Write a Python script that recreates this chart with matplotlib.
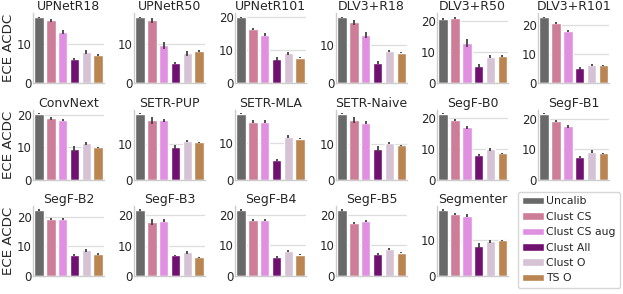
import matplotlib
matplotlib.use("Agg")
import matplotlib.pyplot as plt
import seaborn as sns
import numpy as np
from matplotlib.patches import Patch
from matplotlib.ticker import MultipleLocator

sns.set_theme(style="whitegrid")
plt.rcParams['font.family'] = ['DejaVu Sans']

models = ['UPNetR18', 'UPNetR50', 'UPNetR101', 'DLV3+R18', 'DLV3+R50', 'DLV3+R101',
          'ConvNext', 'SETR-PUP', 'SETR-MLA', 'SETR-Naive', 'SegF-B0', 'SegF-B1',
          'SegF-B2', 'SegF-B3', 'SegF-B4', 'SegF-B5', 'Segmenter']
methods = ['Uncalib', 'Clust CS', 'Clust CS aug', 'Clust All', 'Clust O', 'TS O']

uncalib = [16.9, 16.9, 19.9, 17.2, 20.6, 22.7, 20.5, 18.5, 17.8, 18.6, 21.6, 21.7, 22.2, 21.8, 21.6, 21.6, 18.4]
clust_cs = [16.1, 16.1, 16.3, 15.9, 21.1, 20.7, 19.1, 16.6, 15.7, 16.9, 19.6, 19.3, 19.2, 17.7, 18.3, 17.3, 17.4]
clust_cs_aug = [13.1, 9.7, 14.6, 12.6, 13.0, 18.0, 18.4, 16.6, 15.7, 16.0, 17.1, 17.5, 19.2, 18.3, 18.3, 18.0, 16.8]
clust_all = [6.2, 5.2, 7.2, 5.3, 5.6, 5.2, 9.6, 9.1, 5.2, 8.6, 8.0, 7.4, 7.1, 6.8, 6.2, 7.3, 8.5]
clust_o = [7.9, 7.7, 9.0, 8.4, 8.6, 6.25, 11.3, 10.8, 11.6, 10.3, 9.9, 9.1, 8.6, 7.8, 8.2, 8.9, 9.7]
ts_o = [7.2, 8.3, 7.7, 8.0, 8.9, 6.1, 10.0, 10.5, 11.1, 9.7, 8.6, 8.6, 7.4, 6.2, 6.95, 7.6, 10.0]

err_uncalib = [0.2, 0.2, 0.2, 0.2, 0.3, 0.2, 0.2, 0.2, 0.2, 0.2, 0.2, 0.2, 0.2, 0.2, 0.2, 0.2, 0.2]
err_cs = [0.4, 0.6, 0.3, 0.6, 0.4, 0.5, 0.5, 0.9, 0.4, 0.8, 0.3, 0.4, 0.4, 1.0, 0.3, 0.3, 0.3]
err_aug = [0.6, 0.8, 0.4, 0.7, 1.2, 0.3, 0.3, 0.5, 0.4, 0.4, 0.6, 0.4, 0.4, 0.4, 0.4, 0.4, 0.4]
err_all = [0.3, 0.3, 0.6, 0.4, 0.6, 0.5, 0.9, 0.6, 0.3, 0.9, 0.3, 0.3, 0.3, 0.3, 0.4, 0.4, 0.8]
err_o = [0.5, 0.6, 0.4, 0.3, 0.5, 0.5, 0.4, 0.2, 0.4, 0.3, 0.4, 0.5, 0.4, 0.4, 0.4, 0.4, 0.5]
err_ts = [0.2, 0.2, 0.2, 0.2, 0.3, 0.2, 0.2, 0.2, 0.2, 0.2, 0.2, 0.2, 0.2, 0.2, 0.2, 0.2, 0.2]

values = [uncalib, clust_cs, clust_cs_aug, clust_all, clust_o, ts_o]
errors = [err_uncalib, err_cs, err_aug, err_all, err_o, err_ts]
base_colors = ['dimgray', 'palevioletred', 'violet', 'purple', 'thistle', 'peru']
colors = [sns.desaturate(c, 0.75) for c in base_colors]

fig, axes = plt.subplots(3, 6, figsize=(6.23, 2.94), dpi=100)
fig.subplots_adjust(left=0.053, right=0.978, bottom=0.061, top=0.955, wspace=0.423, hspace=0.378)
axes = axes.ravel()

x = np.arange(len(methods))
for i, name in enumerate(models):
    ax = axes[i]
    h = [values[m][i] for m in range(len(methods))]
    e = [errors[m][i] for m in range(len(methods))]
    ax.bar(x, h, width=0.8, color=colors, zorder=2)
    ax.errorbar(x, h, yerr=e, fmt='none', ecolor='#424242', elinewidth=1.3, capsize=0, zorder=3)
    ax.set_xlim(-0.5, len(methods) - 0.5)
    ax.set_xticks([])
    ax.yaxis.set_major_locator(MultipleLocator(10))
    ax.tick_params(axis='y', labelsize=8.5, pad=1, length=0)
    ax.set_title(name, fontsize=9, pad=2)
    ax.grid(axis='x', visible=False)
    ax.grid(axis='y', color='#dddddd', linewidth=0.9)
    for s in ['top', 'right']:
        ax.spines[s].set_visible(False)
    for s in ['left', 'bottom']:
        ax.spines[s].set_color('#cccccc')
        ax.spines[s].set_linewidth(1.0)
    if i % 6 == 0:
        ax.set_ylabel('ECE ACDC', fontsize=9.6, labelpad=1)

axes[17].axis('off')
handles = [Patch(facecolor=c, label=l) for c, l in zip(colors, methods)]
fig.legend(handles=handles, loc='upper left', bbox_to_anchor=(518 / 623, 1 - 192 / 294),
           borderaxespad=0, fontsize=7.8, handlelength=2.0, handletextpad=0.2,
           labelspacing=0.5, frameon=True, edgecolor='#cccccc', borderpad=0.4)

fig.savefig('out.png', dpi=100)
